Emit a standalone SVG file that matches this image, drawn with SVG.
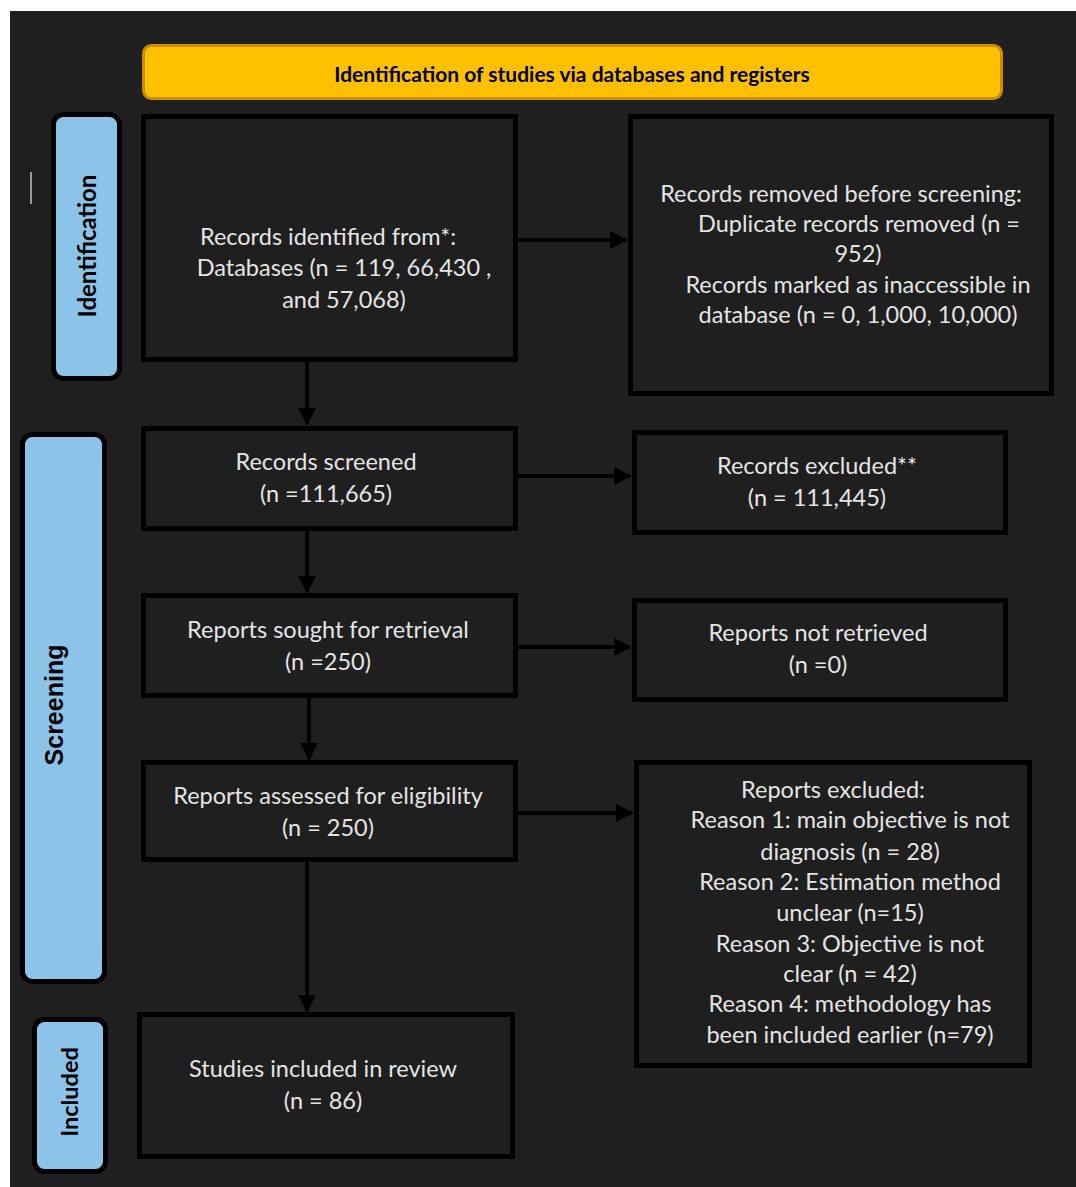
<svg xmlns="http://www.w3.org/2000/svg" width="1076" height="1187" viewBox="0 0 1076 1187">
<defs>
<style>
.bg{fill:#1f1f1f}
.box{fill:#1f1f1f;stroke:#000;stroke-width:5}
.side{fill:#8bc4e8;stroke:#000;stroke-width:5}
.t{font-family:Lato,"Open Sans",sans-serif;font-size:23.5px;fill:#e4e4e4;text-anchor:middle}
.sl{font-family:Lato,"Liberation Sans",sans-serif;font-weight:bold;font-size:24px;fill:#000;text-anchor:middle}
.hd{font-family:Lato,"Liberation Sans",sans-serif;font-weight:bold;font-size:21px;fill:#000;text-anchor:middle}
.c{stroke:#000;stroke-width:4;fill:none}
</style>
<marker id="ah" viewBox="0 0 10 10" refX="9" refY="5" markerWidth="4.5" markerHeight="4.5" orient="auto" markerUnits="strokeWidth">
<path d="M0,0 L10,5 L0,10 z" fill="#000"/>
</marker>
</defs>
<rect x="0" y="0" width="1076" height="1187" fill="#fff"/>
<rect class="bg" x="10" y="11" width="1066" height="1176"/>
<line x1="31" y1="172" x2="31" y2="204" stroke="#9a9a9a" stroke-width="2"/>

<g id="header">
<rect x="143.5" y="45.5" width="858" height="53" rx="8" fill="#ffc000" stroke="#c98f00" stroke-width="3"/>
<text class="hd" x="572" y="82">Identification of studies via databases and registers</text>
</g>

<g id="label-identification">
<rect class="side" x="53.5" y="114.5" width="66" height="264" rx="10"/>
<text class="sl" transform="translate(96,246) rotate(-90)">Identification</text>
</g>
<g id="label-screening">
<rect class="side" x="22.5" y="434.5" width="82" height="547" rx="10"/>
<text class="sl" style="font-family:'Liberation Sans',Arial,sans-serif;font-size:25px" transform="translate(63,705) rotate(-90)">Screening</text>
</g>
<g id="label-included">
<rect class="side" x="34.5" y="1019.5" width="71" height="152" rx="10"/>
<text class="sl" style="font-size:23.5px" transform="translate(78,1092) rotate(-90)">Included</text>
</g>

<g id="records-identified">
<rect class="box" x="143.5" y="116.5" width="372" height="243"/>
<text class="t" x="328" y="245">Records identified from*:</text>
<text class="t" x="344" y="276">Databases (n = 119, 66,430 ,</text>
<text class="t" x="344" y="308">and 57,068)</text>
</g>
<g id="records-removed">
<rect class="box" x="630.5" y="116.5" width="421" height="277"/>
<text class="t" x="841" y="202">Records removed before screening:</text>
<text class="t" x="859" y="232">Duplicate records removed (n =</text>
<text class="t" x="858" y="262">952)</text>
<text class="t" x="858" y="293">Records marked as inaccessible in</text>
<text class="t" x="858" y="323">database (n = 0, 1,000, 10,000)</text>
</g>
<g id="records-screened">
<rect class="box" x="143.5" y="428.5" width="372" height="100"/>
<text class="t" x="326" y="470">Records screened</text>
<text class="t" x="326" y="502">(n =111,665)</text>
</g>
<g id="records-excluded">
<rect class="box" x="634.5" y="432.5" width="371" height="100"/>
<text class="t" x="817" y="474">Records excluded**</text>
<text class="t" x="817" y="506">(n = 111,445)</text>
</g>
<g id="reports-sought">
<rect class="box" x="143.5" y="595.5" width="372" height="100"/>
<text class="t" x="328" y="638">Reports sought for retrieval</text>
<text class="t" x="328" y="670">(n =250)</text>
</g>
<g id="reports-not-retrieved">
<rect class="box" x="634.5" y="600.5" width="371" height="99"/>
<text class="t" x="818" y="641">Reports not retrieved</text>
<text class="t" x="818" y="673">(n =0)</text>
</g>
<g id="reports-assessed">
<rect class="box" x="143.5" y="762.5" width="372" height="97"/>
<text class="t" x="328" y="804">Reports assessed for eligibility</text>
<text class="t" x="328" y="836">(n = 250)</text>
</g>
<g id="reports-excluded">
<rect class="box" x="636.5" y="762.5" width="393" height="303"/>
<text class="t" x="833" y="798">Reports excluded:</text>
<text class="t" x="850" y="828">Reason 1: main objective is not</text>
<text class="t" x="850" y="860">diagnosis (n = 28)</text>
<text class="t" x="850" y="890">Reason 2: Estimation method</text>
<text class="t" x="850" y="921">unclear (n=15)</text>
<text class="t" x="850" y="952">Reason 3: Objective is not</text>
<text class="t" x="850" y="982">clear (n = 42)</text>
<text class="t" x="850" y="1012">Reason 4: methodology has</text>
<text class="t" x="850" y="1043">been included earlier (n=79)</text>
</g>
<g id="studies-included">
<rect class="box" x="139.5" y="1014.5" width="373" height="142"/>
<text class="t" x="323" y="1077">Studies included in review</text>
<text class="t" x="323" y="1109">(n = 86)</text>
</g>

<g id="connectors">
<line class="c" x1="518" y1="240" x2="626" y2="240" marker-end="url(#ah)"/>
<line class="c" x1="307" y1="362" x2="307" y2="424" marker-end="url(#ah)"/>
<line class="c" x1="518" y1="476" x2="630" y2="476" marker-end="url(#ah)"/>
<line class="c" x1="307" y1="531" x2="307" y2="592" marker-end="url(#ah)"/>
<line class="c" x1="518" y1="647" x2="630" y2="647" marker-end="url(#ah)"/>
<line class="c" x1="309" y1="698" x2="309" y2="759" marker-end="url(#ah)"/>
<line class="c" x1="518" y1="813" x2="632" y2="813" marker-end="url(#ah)"/>
<line class="c" x1="307" y1="862" x2="307" y2="1011" marker-end="url(#ah)"/>
</g>
</svg>
